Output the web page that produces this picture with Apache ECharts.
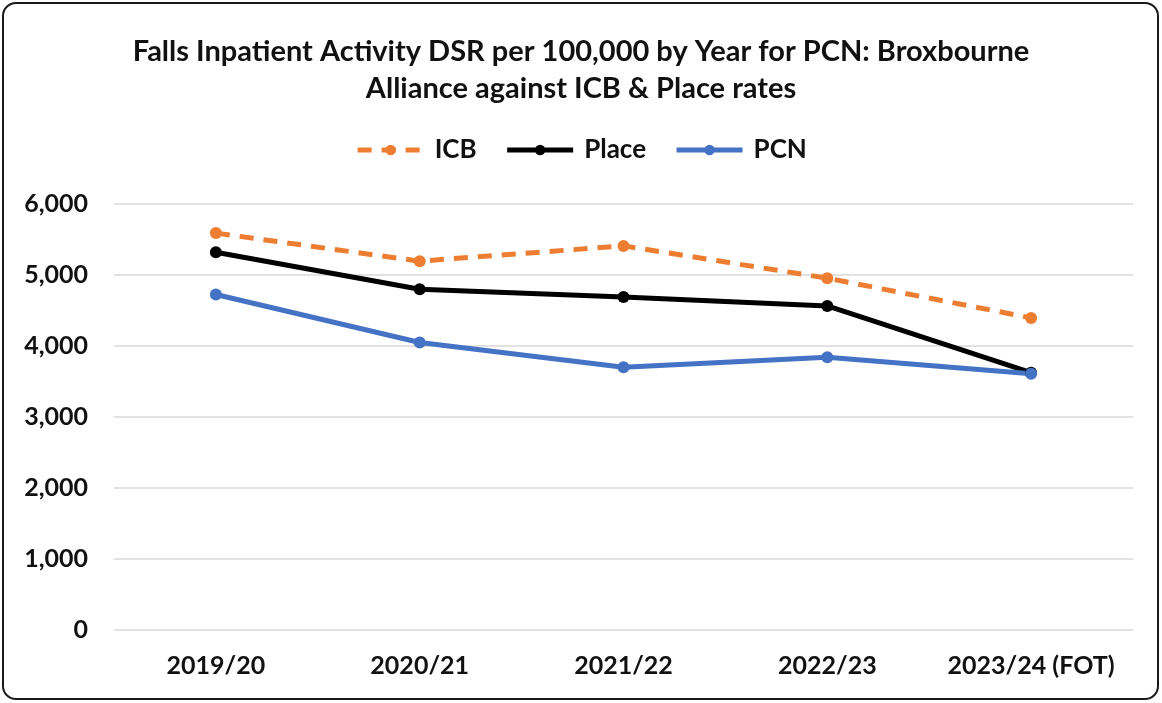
<!DOCTYPE html>
<html>
<head>
<meta charset="utf-8">
<script src="https://cdn.jsdelivr.net/npm/echarts@6/dist/echarts.min.js"></script>
<style>
  html, body { margin: 0; padding: 0; background: #fff; }
  #frame {
    position: absolute; left: 2px; top: 2px; width: 1157px; height: 698px;
    border: 2px solid #1a1a1a; border-radius: 14px; box-sizing: border-box;
  }
  #main { position: absolute; left: 0; top: 0; width: 1162px; height: 703px; }
</style>
</head>
<body>
<div id="frame"></div>
<div id="main"></div>
<script>
// ── data ──────────────────────────────────────────────
const years = ['2019/20', '2020/21', '2021/22', '2022/23', '2023/24 (FOT)']
const icb   = [5590, 5195, 5410, 4955, 4395]
const place = [5320, 4800, 4690, 4565, 3625]
const pcn   = [4725, 4050, 3700, 3840, 3610]

const FONT = 'Lato'
const TXT = '#111'
const chart = echarts.init(document.getElementById('main'), null, { renderer: 'canvas' })

function lineSeries(name, data, color, dashed) {
  return {
    name, type: 'line', data,
    symbol: 'circle', symbolSize: 12,
    lineStyle: { color, width: 5, type: dashed ? [14, 10] : 'solid' },
    itemStyle: { color },
    z: dashed ? 3 : 2,
  }
}

chart.setOption({
  backgroundColor: 'transparent',
  animation: false,
  title: {
    text: 'Falls Inpatient Activity DSR per 100,000 by Year for PCN: Broxbourne\nAlliance against ICB & Place rates',
    left: 'center', top: 28,
    textStyle: { fontFamily: FONT, fontWeight: 'bold', fontSize: 29, color: TXT, lineHeight: 37 },
  },
  legend: {
    top: 132, left: 'center',
    itemWidth: 66, itemHeight: 13, itemGap: 28,
    lineStyle: { width: 5 },
    textStyle: { fontFamily: FONT, fontWeight: 'bold', fontSize: 26, color: TXT, padding: [0, 0, 0, 6] },
    data: ['ICB', 'Place', 'PCN'],
  },
  grid: { left: 114, right: 29, top: 204, bottom: 73 },
  xAxis: {
    type: 'category', data: years,
    axisLine: { show: false }, axisTick: { show: false },
    axisLabel: { interval: 0, fontFamily: FONT, fontWeight: 'bold', fontSize: 25, color: TXT, margin: 23 },
  },
  yAxis: {
    type: 'value', min: 0, max: 6000, interval: 1000,
    axisLine: { show: false }, axisTick: { show: false },
    axisLabel: {
      fontFamily: FONT, fontWeight: 'bold', fontSize: 25, color: TXT, margin: 26,
      formatter: v => v.toLocaleString('en-GB'),
    },
    splitLine: { lineStyle: { color: '#d9d9d9', width: 1.5 } },
  },
  series: [
    lineSeries('ICB', icb, '#ed7d31', true),
    lineSeries('Place', place, '#000000', false),
    lineSeries('PCN', pcn, '#4472c4', false),
  ],
})
</script>
</body>
</html>
